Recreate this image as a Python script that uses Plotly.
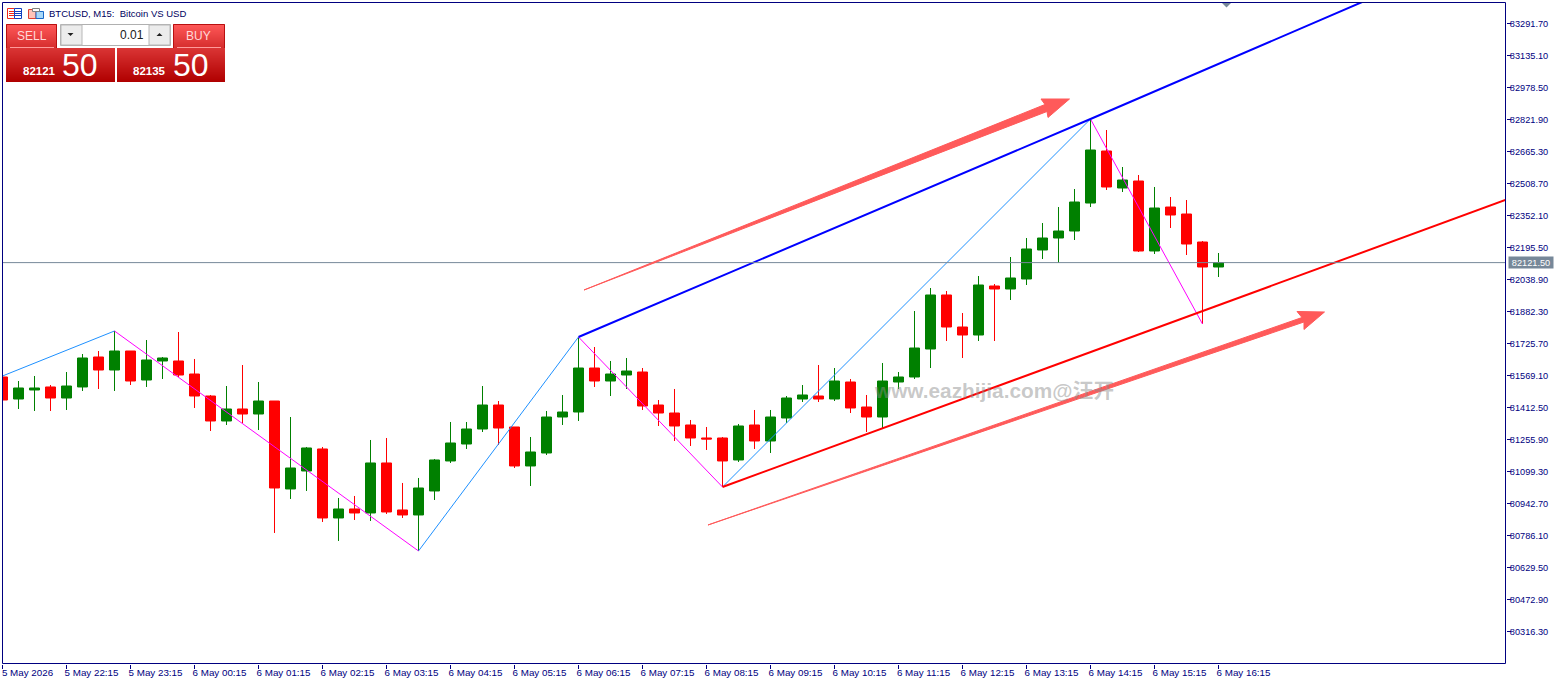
import plotly.graph_objects as go

# BTCUSD M15 candles, one row per field, index 0 = 5 May 21:15
OPEN = [81561.8, 81454.1, 81498.2, 81512.9, 81459.0, 81512.9, 81659.7, 81596.0, 81689.0, 81547.1,
        81640.1, 81640.1, 81576.4, 81468.8, 81346.5, 81405.2, 81380.7, 81444.3, 81013.8, 81101.8,
        81209.5, 80871.9, 80915.9, 80896.3, 81141.0, 80911.0, 80886.5, 81004.0, 81150.8, 81233.9,
        81307.3, 81424.7, 81317.1, 81126.3, 81189.9, 81366.0, 81390.5, 81605.8, 81542.2, 81571.5,
        81586.2, 81424.7, 81385.6, 81326.9, 81263.3, 81263.3, 81155.7, 81326.9, 81248.6, 81361.1,
        81454.1, 81468.8, 81454.1, 81537.3, 81414.9, 81366.0, 81537.3, 81561.8, 81698.8, 81963.1,
        81806.4, 81767.3, 82007.1, 81992.4, 82041.4, 82183.3, 82242.0, 82276.2, 82413.2, 82667.7,
        82486.7, 82520.9, 82178.4, 82393.6, 82359.4, 82222.4, 82100.0]
HIGH = [81561.8, 81542.2, 81566.7, 81522.6, 81586.2, 81674.3, 81689.0, 81786.9, 81689.0, 81742.8,
        81659.7, 81782.0, 81649.9, 81473.7, 81517.7, 81620.5, 81537.3, 81444.3, 81366.0, 81219.3,
        81219.3, 80969.7, 80979.5, 81253.5, 81263.3, 81043.1, 81067.6, 81160.5, 81341.6, 81341.6,
        81517.7, 81444.3, 81317.1, 81268.2, 81395.4, 81473.7, 81757.5, 81708.5, 81640.1, 81654.8,
        81605.8, 81449.2, 81503.1, 81351.4, 81317.1, 81268.2, 81331.8, 81400.3, 81400.3, 81468.8,
        81522.6, 81620.5, 81605.8, 81552.0, 81473.7, 81630.3, 81586.2, 81884.7, 81997.3, 81982.6,
        81874.9, 82056.0, 82016.9, 82149.0, 82242.0, 82315.4, 82393.6, 82481.8, 82824.3, 82770.5,
        82589.4, 82550.3, 82491.6, 82442.6, 82427.9, 82227.3, 82168.6]
LOW = [81449.2, 81405.2, 81395.4, 81395.4, 81400.3, 81493.3, 81503.1, 81493.3, 81522.6, 81512.9,
       81552.0, 81561.8, 81410.1, 81297.5, 81326.9, 81336.7, 81302.4, 80798.5, 80964.8, 81004.0,
       80852.3, 80759.3, 80862.1, 80857.2, 80891.4, 80871.9, 80710.4, 80959.9, 81141.0, 81209.5,
       81292.6, 81229.0, 81116.5, 81028.4, 81180.1, 81326.9, 81346.5, 81512.9, 81468.8, 81503.1,
       81400.3, 81322.0, 81248.6, 81224.2, 81204.6, 81023.5, 81145.9, 81209.5, 81189.9, 81336.7,
       81439.4, 81439.4, 81444.3, 81385.6, 81292.6, 81312.2, 81503.1, 81552.0, 81605.8, 81737.9,
       81654.8, 81737.9, 81737.9, 81938.6, 82012.0, 82139.2, 82119.6, 82232.2, 82393.6, 82476.9,
       82467.1, 82173.5, 82163.7, 82290.9, 82158.8, 81821.1, 82051.1]
CLOSE = [81449.2, 81508.0, 81508.0, 81459.0, 81517.7, 81654.8, 81596.0, 81689.0, 81542.2, 81645.0,
         81654.8, 81571.5, 81468.8, 81346.5, 81405.2, 81380.7, 81444.3, 81018.6, 81116.5, 81214.4,
         80871.9, 80915.9, 80896.3, 81141.0, 80901.2, 80886.5, 81018.6, 81155.7, 81238.8, 81307.3,
         81424.7, 81312.2, 81126.3, 81194.8, 81366.0, 81390.5, 81605.8, 81542.2, 81576.4, 81591.1,
         81419.8, 81385.6, 81322.0, 81263.3, 81258.4, 81150.8, 81322.0, 81248.6, 81366.0, 81459.0,
         81473.7, 81454.1, 81542.2, 81410.1, 81366.0, 81542.2, 81561.8, 81703.7, 81963.1, 81806.4,
         81767.3, 82012.0, 81992.4, 82046.3, 82188.2, 82242.0, 82276.2, 82418.1, 82672.6, 82491.6,
         82525.8, 82178.4, 82388.8, 82354.5, 82212.6, 82100.0, 82121.5]
BARS = list(range(len(OPEN)))

TIME_TICKS = [0, 4, 8, 12, 16, 20, 24, 28, 32, 36, 40, 44, 48, 52, 56, 60, 64, 68, 72, 76]
TIME_LABELS = ["5 May 2026", "5 May 22:15", "5 May 23:15", "6 May 00:15", "6 May 01:15", "6 May 02:15",
               "6 May 03:15", "6 May 04:15", "6 May 05:15", "6 May 06:15", "6 May 07:15", "6 May 08:15",
               "6 May 09:15", "6 May 10:15", "6 May 11:15", "6 May 12:15", "6 May 13:15", "6 May 14:15",
               "6 May 15:15", "6 May 16:15"]
PRICE_TICKS = [83291.7, 83135.1, 82978.5, 82821.9, 82665.3, 82508.7, 82352.1, 82195.5, 82038.9, 81882.3,
               81725.7, 81569.1, 81412.5, 81255.9, 81099.3, 80942.7, 80786.1, 80629.5, 80472.9, 80316.3]
LAST_PRICE = 82121.5

# Zigzag pivots
ZIG_UP = [([0, 7], [81566.7, 81786.9]), ([26, 36], [80710.4, 81757.5]), ([45, 68], [81023.5, 82824.3])]
ZIG_DOWN = [([7, 26], [81786.9, 80710.4]), ([36, 45], [81757.5, 81023.5]), ([68, 75], [82824.3, 81821.1])]

# Channel rays
UPPER_BARS = [36, 68, 90]
UPPER_PRICES = [81757.5, 82824.3, 83566.0]
LOWER_BARS = [45, 93.97]
LOWER_PRICES = [81023.5, 82429.0]

NAVY = "#000080"
SLATE = "#778899"
ARROW = "#ff5a5a"
W, H = 1563, 684
LEFT, TOP, RIGHT, BOTTOM = 2, 2, 1506, 664


def px(x):
    return (x - LEFT) / (RIGHT - LEFT)


def py(y):
    return 1 - (y - TOP) / (BOTTOM - TOP)


def poly(points, fill, line=None):
    path = "M" + " L".join(f"{px(x):.5f},{py(y):.5f}" for x, y in points) + " Z"
    return dict(type="path", xref="paper", yref="paper", path=path, fillcolor=fill,
                line=dict(color=line or fill, width=0 if line is None else 1), layer="above")


def rect(x0, y0, x1, y1, fill=None, line=None):
    return dict(type="rect", xref="paper", yref="paper", x0=px(x0), x1=px(x1), y0=py(y0), y1=py(y1),
                fillcolor=fill or "rgba(0,0,0,0)",
                line=dict(color=line or "rgba(0,0,0,0)", width=1 if line else 0), layer="above")


def seg(x0, y0, x1, y1, color, width=1):
    return dict(type="line", xref="paper", yref="paper", x0=px(x0), x1=px(x1), y0=py(y0), y1=py(y1),
                line=dict(color=color, width=width), layer="above")


def mix(a, b, t):
    return "rgb(%d,%d,%d)" % tuple(round(a[k] + (b[k] - a[k]) * t) for k in range(3))


def gradient(x0, y0, x1, y1, top, bottom):
    out = []
    for y in range(y0, y1):
        out.append(rect(x0, y, x1, y + 1, fill=mix(top, bottom, (y - y0) / max(1, y1 - y0 - 1))))
    return out


def label(x, y, text, size, color=NAVY, anchor="left", family="Liberation Sans", bold=False):
    return dict(xref="paper", yref="paper", x=px(x), y=py(y), text=f"<b>{text}</b>" if bold else text,
                showarrow=False, xanchor=anchor, yanchor="middle", align=anchor,
                font=dict(size=size, color=color, family=family), borderpad=0)


fig = go.Figure()

fig.add_trace(go.Candlestick(
    x=BARS, open=OPEN, high=HIGH, low=LOW, close=CLOSE,
    increasing=dict(line=dict(color="#008000", width=1), fillcolor="#008000"),
    decreasing=dict(line=dict(color="#ff0000", width=1), fillcolor="#ff0000"),
    whiskerwidth=0, showlegend=False, hoverinfo="skip",
))

for xs, ys in ZIG_UP:
    fig.add_trace(go.Scatter(x=xs, y=ys, mode="lines", line=dict(color="#1e90ff", width=1),
                             showlegend=False, hoverinfo="skip"))
for xs, ys in ZIG_DOWN:
    fig.add_trace(go.Scatter(x=xs, y=ys, mode="lines", line=dict(color="#ff00ff", width=1),
                             showlegend=False, hoverinfo="skip"))

fig.add_trace(go.Scatter(x=UPPER_BARS, y=UPPER_PRICES, mode="lines", line=dict(color="#0000ff", width=2),
                         showlegend=False, hoverinfo="skip"))
fig.add_trace(go.Scatter(x=LOWER_BARS, y=LOWER_PRICES, mode="lines", line=dict(color="#ff0000", width=2),
                         showlegend=False, hoverinfo="skip"))

shapes = []

# Last price line
shapes.append(dict(type="line", xref="paper", yref="y", x0=0, x1=1, y0=LAST_PRICE, y1=LAST_PRICE,
                   line=dict(color=SLATE, width=1), layer="above"))

# Chart frame
shapes.append(rect(2.5, 2.5, 1505.5, 663.5, line=NAVY))

# Hand-drawn trend arrows
shapes.append(poly([(584, 290), (1045, 104.5), (1041, 99), (1069.5, 99), (1048, 117.5), (1047, 111.5)], ARROW, line=ARROW))
shapes.append(poly([(708, 525), (1302, 317.5), (1297, 311.5), (1324.5, 312), (1304, 329.5), (1304, 322)], ARROW, line=ARROW))

# Order marker clipped by the top edge
shapes.append(poly([(1222, 3), (1231, 3), (1226.5, 7.5)], SLATE))

# One-click trading panel
shapes += gradient(6, 24, 57, 48, (255, 88, 88), (214, 46, 46))
shapes += gradient(173, 24, 225, 48, (255, 88, 88), (214, 46, 46))
shapes += gradient(6, 48, 115, 82, (218, 52, 52), (176, 0, 0))
shapes += gradient(117, 48, 225, 82, (218, 52, 52), (176, 0, 0))
shapes += [seg(6.5, 24.5, 56.5, 24.5, "#b81010"), seg(6.5, 24.5, 6.5, 48, "#b81010"),
           seg(56.5, 24.5, 56.5, 48, "#b81010"), seg(173.5, 24.5, 224.5, 24.5, "#b81010"),
           seg(173.5, 24.5, 173.5, 48, "#b81010"), seg(224.5, 24.5, 224.5, 48, "#b81010"),
           seg(10, 47.5, 54, 47.5, "#ff9a9a"), seg(177, 47.5, 221, 47.5, "#ff9a9a")]
shapes.append(rect(60.5, 24.5, 170.5, 45.5, fill="#ffffff", line="#b0b0b0"))
shapes.append(rect(61, 25, 82, 45, fill="#ececec", line="#b8b8b8"))
shapes.append(rect(149, 25, 170, 45, fill="#ececec", line="#b8b8b8"))
shapes.append(poly([(67.5, 33), (73.5, 33), (70.5, 36)], "#202020"))
shapes.append(poly([(156.5, 36), (162.5, 36), (159.5, 33)], "#202020"))

# Toolbar icons beside the symbol title
shapes.append(rect(7.5, 8.5, 14.5, 18.5, fill="#ffffff", line="#f02818"))
shapes.append(rect(14.5, 8.5, 21.5, 18.5, fill="#ffffff", line="#1040c0"))
for y in (11.5, 13.5, 15.5):
    shapes.append(seg(9, y, 14, y, "#f02818"))
    shapes.append(seg(15, y, 21, y, "#1040c0"))
shapes.append(rect(28.5, 9.5, 36, 18.5, fill="#ffc4b8", line="#e04030"))
shapes.append(rect(36, 11.5, 43.5, 18.5, fill="#a8d8f8", line="#1868c8"))
shapes.append(rect(32.5, 8.5, 39.5, 11.5, fill="#ffffff", line="#808080"))

annotations = [
    label(48, 14, "BTCUSD, M15:  Bitcoin VS USD", 9.5, color="#000060"),
    label(31.5, 35.5, "SELL", 12, color="#ffd8d8", anchor="center"),
    label(198.5, 35.5, "BUY", 12, color="#ffd8d8", anchor="center"),
    label(145, 35, "0.01", 12, color="#202020", anchor="right"),
    label(22, 71.5, "82121", 11.5, color="#ffffff", bold=True),
    label(132, 71.5, "82135", 11.5, color="#ffffff", bold=True),
    label(61, 65, "50", 32, color="#ffffff"),
    label(172, 65, "50", 32, color="#ffffff"),
    # Watermark
    label(873, 390, "www.eazhijia.com@汪开", 20.8, color="rgba(140,140,140,0.48)",
          family="Liberation Sans, Noto Sans CJK SC", bold=True),
    # Last price tag on the axis
    dict(xref="paper", yref="y", x=px(1508), y=LAST_PRICE, text="82121.50", showarrow=False,
         xanchor="left", yanchor="middle", bgcolor=SLATE, width=44, height=11, borderpad=0,
         font=dict(size=9.2, color="#ffffff", family="Liberation Sans")),
]

fig.update_layout(
    width=W, height=H, autosize=False,
    margin=dict(l=LEFT, t=TOP, r=W - RIGHT, b=H - BOTTOM, pad=0),
    paper_bgcolor="#ffffff", plot_bgcolor="#ffffff",
    boxgap=0.375, boxgroupgap=0, showlegend=False, shapes=shapes, annotations=annotations,
    xaxis=dict(range=[-0.03125, 93.96875], rangeslider=dict(visible=False), showgrid=False, zeroline=False,
               showline=False, ticks="outside", ticklen=4, tickwidth=1, tickcolor=NAVY,
               tickmode="array", tickvals=TIME_TICKS, ticktext=TIME_LABELS, tickangle=0,
               ticklabelshift=25, ticklabelstandoff=-5, ticklabeloverflow="allow",
               tickfont=dict(size=9.8, color=NAVY, family="Liberation Sans")),
    yaxis=dict(range=[80157.25, 83396.92], side="right", showgrid=False, zeroline=False,
               showline=False, ticks="outside", ticklen=4, tickwidth=1, tickcolor=NAVY,
               tickmode="array", tickvals=PRICE_TICKS, ticktext=[f"{v:.2f}" for v in PRICE_TICKS],
               ticklabelstandoff=-3,
               tickfont=dict(size=9.2, color=NAVY, family="Liberation Sans")),
)

fig.write_html("out.html", config=dict(displayModeBar=False))
